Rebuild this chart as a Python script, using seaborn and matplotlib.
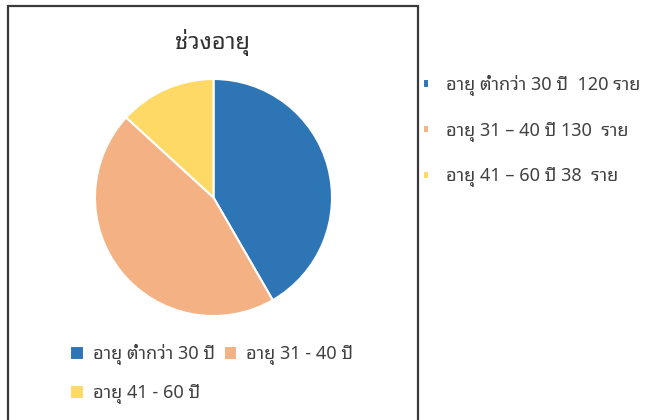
import matplotlib
matplotlib.use("Agg")
import matplotlib.pyplot as plt
from matplotlib.patches import Rectangle
import seaborn as sns

# data
labels = ["อายุ ต่ำกว่า 30 ปี", "อายุ 31 - 40 ปี", "อายุ 41 - 60 ปี"]
counts = [120, 130, 38]
side_notes = ["อายุ ต่ำกว่า 30 ปี  120 ราย", "อายุ 31 – 40 ปี 130  ราย", "อายุ 41 – 60 ปี 38  ราย"]
title = "ช่วงอายุ"
colors = ["#2E75B6", "#F4B183", "#FFD966"]

sns.set_style("white")
plt.rcParams["font.family"] = ["Noto Sans Thai Looped", "Noto Sans Thai", "DejaVu Sans"]

fig = plt.figure(figsize=(6.45, 4.2), dpi=100)
W, H = 645, 420

# outer box of the chart
fig.patches.append(Rectangle((8 / W, 1 - 440 / H), 410 / W, 434 / H, transform=fig.transFigure,
                             fill=False, edgecolor="#3a3a3a", linewidth=1.6, zorder=0))

r = 118.5
ax = fig.add_axes([(213.5 - r) / W, 1 - (197.5 + r) / H, 2 * r / W, 2 * r / H])
wedges, _ = ax.pie(counts, colors=colors, startangle=90, counterclock=False,
                   wedgeprops=dict(edgecolor="white", linewidth=1.5))
ax.set_xlim(-1, 1)
ax.set_ylim(-1, 1)

fig.text(213 / W, 1 - 42 / H, title, ha="center", va="center", fontsize=17, color="#303030")

# legend fills column-wise, so reorder to get 1 2 / 3
order = [0, 2, 1]
fig.legend([wedges[i] for i in order], [labels[i] for i in order], ncol=2, loc="upper left",
           bbox_to_anchor=(54 / W, 1 - 328 / H),
           frameon=False, fontsize=13, handlelength=0.75, handleheight=0.75,
           columnspacing=0.5, handletextpad=0.5, labelspacing=1.05, labelcolor="#404040")

# notes with counts to the right of the box
fig.legend(wedges, side_notes, loc="upper left", bbox_to_anchor=(423 / W, 1 - 75 / H),
           frameon=False, fontsize=13, handlelength=0.35, handleheight=0.35,
           handletextpad=0.95, labelspacing=1.42, borderpad=0, borderaxespad=0,
           labelcolor="#404040")

fig.savefig("out.png", dpi=100)
